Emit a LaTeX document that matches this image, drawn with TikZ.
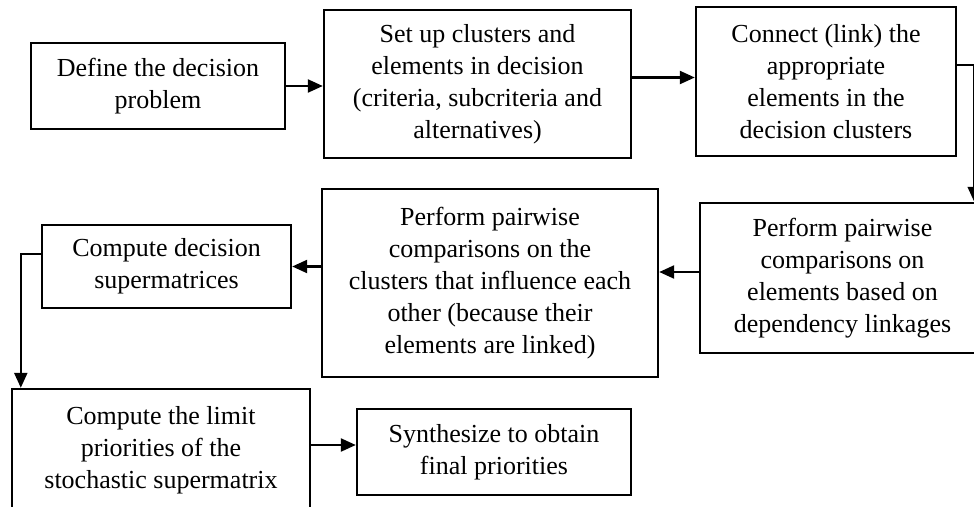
\documentclass[tikz,border=0pt]{standalone}
\usepackage{fontspec}
\setmainfont{Liberation Serif}
\usetikzlibrary{arrows.meta}
\begin{document}
\begin{tikzpicture}[x=1pt,y=-1pt,
  box/.style={draw, line width=2.4pt, align=center, inner sep=0pt,
    font=\fontsize{26}{32}\selectfont},
  link/.style={line width=2.3pt, -{Triangle[length=15pt,width=13pt]}}]
\useasboundingbox (0,0) rectangle (974,506);

% process steps
\node[box, minimum width=254pt, minimum height=86pt] (b1) at (158,86)
  {Define the decision\\problem};
\node[box, minimum width=307pt, minimum height=148pt] (b2) at (477.5,84)
  {Set up clusters and\\elements in decision\\(criteria, subcriteria and\\alternatives)};
\node[box, minimum width=260pt, minimum height=149pt] (b3) at (826,81.5)
  {Connect (link) the\\appropriate\\elements in the\\decision clusters};
\node[box, minimum width=285pt, minimum height=150pt] (b4) at (842.5,278)
  {Perform pairwise\\comparisons on\\elements based on\\dependency linkages};
\node[box, minimum width=336pt, minimum height=188pt] (b5) at (490,283)
  {Perform pairwise\\comparisons on the\\clusters that influence each\\other (because their\\elements are linked)};
\node[box, minimum width=249pt, minimum height=83pt] (b6) at (166.5,266.5)
  {Compute decision\\supermatrices};
\node[box, minimum width=298pt, minimum height=122pt] (b7) at (161,450)
  {Compute the limit\\priorities of the\\stochastic supermatrix};
\node[box, minimum width=274pt, minimum height=86pt] (b8) at (494,452)
  {Synthesize to obtain\\final priorities};

% flow between the steps
\draw[link] (b1.east) -- (b1.east -| b2.west);
\draw[link] ([yshift=4pt]b3.west -| b2.east) -- ([yshift=4pt]b3.west);
\draw[link] ([yshift=16.5pt]b3.east) -| ([xshift=-12pt]b4.north east);
\draw[link] ([yshift=6pt]b4.west) -- ([yshift=6pt]b4.west -| b5.east);
\draw[link] (b5.west |- b6.east) -- (b6.east);
\draw[link] ([yshift=12.5pt]b6.west) -| ([xshift=10pt]b7.north west);
\draw[link] ([yshift=7pt]b8.west -| b7.east) -- ([yshift=7pt]b8.west);
\end{tikzpicture}
\end{document}
